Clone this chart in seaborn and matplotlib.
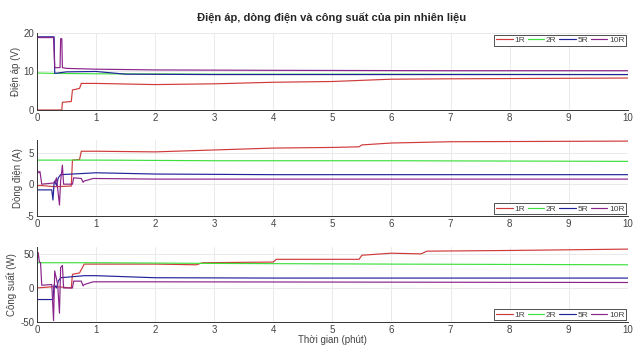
import matplotlib
matplotlib.use("Agg")
import matplotlib.pyplot as plt
import seaborn as sns

# --- data (breakpoints, minutes) ---
labels = ["1R", "2R", "5R", "10R"]
colors = ["#d03a3a", "#3ee03e", "#22229a", "#8a238a"]

# voltage (V)
v1_t = [0, 0.42, 0.43, 0.58, 0.6, 0.72, 0.75, 1.0, 2.0, 3.0, 4.0, 5.0, 5.5, 6.0, 7.0, 10.0]
v1_y = [0, 0, 2.0, 2.2, 5.2, 5.6, 6.9, 6.9, 6.6, 6.8, 7.2, 7.4, 7.7, 8.0, 8.1, 8.3]
v2_t = [0, 0.3, 1.0, 3.0, 6.0, 10.0]
v2_y = [9.6, 9.5, 9.4, 9.3, 9.3, 9.2]
v5_t = [0, 0.29, 0.3, 0.5, 1.0, 1.5, 3.0, 6.0, 10.0]
v5_y = [19.0, 19.0, 9.5, 9.9, 10.0, 9.3, 9.2, 9.2, 9.2]
v10_t = [0, 0.28, 0.3, 0.39, 0.4, 0.42, 0.43, 0.5, 1.0, 2.0, 4.0, 7.0, 10.0]
v10_y = [18.8, 18.8, 11.0, 11.0, 18.5, 18.5, 11.0, 10.8, 10.6, 10.4, 10.3, 10.2, 10.2]

# current (A)
i1_t = [0, 0.05, 0.3, 0.58, 0.6, 0.72, 0.75, 1.0, 2.0, 3.0, 4.0, 5.0, 5.45, 5.5, 6.0, 7.0, 10.0]
i1_y = [-0.3, -0.2, -0.4, -0.3, 3.8, 3.9, 5.2, 5.2, 5.1, 5.4, 5.7, 5.8, 5.9, 6.2, 6.5, 6.7, 6.8]
i2_t = [0, 1.0, 3.0, 6.0, 10.0]
i2_y = [3.8, 3.8, 3.7, 3.7, 3.6]
i5_t = [0, 0.25, 0.27, 0.29, 0.3, 0.33, 0.36, 0.4, 0.8, 1.0, 2.0, 4.0, 10.0]
i5_y = [-0.9, -0.9, -2.5, 0.3, 0.5, -0.2, 1.0, 1.5, 1.7, 1.8, 1.6, 1.5, 1.5]
i10_t = [0, 0.03, 0.05, 0.08, 0.3, 0.33, 0.38, 0.4, 0.43, 0.45, 0.6, 0.62, 0.75, 0.78, 0.8, 0.95, 2.0, 10.0]
i10_y = [2.3, 1.8, 2.0, 0.0, 0.2, 1.0, -3.3, 0.5, 3.0, 0.0, 0.0, 1.0, 0.9, 0.3, 0.5, 0.9, 0.8, 0.8]

# power (W)
p1_t = [0, 0.3, 0.58, 0.6, 0.72, 0.75, 0.8, 2.0, 2.7, 2.8, 4.0, 4.05, 5.0, 5.45, 5.5, 6.0, 6.5, 6.6, 8.0, 10.0]
p1_y = [0, 2, 0, 20, 22, 27, 35, 35, 34, 37, 38, 42, 42, 42, 48, 51, 50, 54, 55, 57]
p2_t = [0, 1.0, 3.0, 6.0, 10.0]
p2_y = [37, 37, 36, 35, 34]
p5_t = [0, 0.27, 0.29, 0.33, 0.36, 0.4, 0.8, 1.0, 2.0, 4.0, 10.0]
p5_y = [-17, -17, 5, 0, 10, 15, 18, 18, 15, 14.5, 14.5]
p10_t = [0, 0.02, 0.04, 0.06, 0.08, 0.25, 0.28, 0.3, 0.35, 0.38, 0.4, 0.43, 0.45, 0.6, 0.62, 0.75, 0.78, 0.8, 0.95, 2.0, 10.0]
p10_y = [40, 52, 38, 37, 4, 5, -48, 25, 5, -37, 30, 33, 0, 0, 10, 10, 3, 5, 9, 9, 8]

panels = [
    ([(v1_t, v1_y), (v2_t, v2_y), (v5_t, v5_y), (v10_t, v10_y)], "Điện áp (V)", (0, 20), [0, 10, 20], "upper right"),
    ([(i1_t, i1_y), (i2_t, i2_y), (i5_t, i5_y), (i10_t, i10_y)], "Dòng điện (A)", (-5, 7), [-5, 0, 5], "lower right"),
    ([(p1_t, p1_y), (p2_t, p2_y), (p5_t, p5_y), (p10_t, p10_y)], "Công suất (W)", (-50, 60), [-50, 0, 50], "lower right"),
]

sns.set_style("white")
plt.rcParams["font.family"] = ["Liberation Sans", "DejaVu Sans"]
plt.rcParams["axes.unicode_minus"] = False

fig = plt.figure(figsize=(6.38, 3.47), dpi=100)
boxes = [[0.058, 0.683, 0.926, 0.222], [0.058, 0.378, 0.926, 0.219], [0.058, 0.072, 0.926, 0.216]]

for box, (series, ylab, ylim, yt, loc) in zip(boxes, panels):
    ax = fig.add_axes(box)
    for (t, y), lab, c in zip(series, labels, colors):
        sns.lineplot(x=t, y=y, ax=ax, color=c, lw=0.85, label=lab, sort=False, estimator=None)
    ax.set_xlim(0, 10)
    ax.set_ylim(*ylim)
    ax.set_xticks(range(0, 11))
    ax.set_yticks(yt)
    ax.grid(True, color="#e6e6e6", lw=0.6)
    ax.tick_params(direction="in", length=3, labelsize=7, colors="#444444", pad=2)
    for s in ["top", "right"]:
        ax.spines[s].set_visible(False)
    for s in ["left", "bottom"]:
        ax.spines[s].set_color("#333333")
        ax.spines[s].set_linewidth(0.7)
    ax.set_ylabel(ylab, fontsize=7, color="#444444", labelpad=2)
    leg = ax.legend(loc=loc, ncol=4, fontsize=6, frameon=True, fancybox=False,
                    edgecolor="#333333", framealpha=1, handlelength=2.0, handletextpad=0.2,
                    columnspacing=0.3, borderpad=0.2, borderaxespad=0.2)
    leg.get_frame().set_linewidth(0.6)
    for txt in leg.get_texts():
        txt.set_color("#444444")
    if ylab.startswith("Công"):
        ax.set_xlabel("Thời gian (phút)", fontsize=7, color="#444444", labelpad=0)

fig.suptitle("Điện áp, dòng điện và công suất của pin nhiên liệu", fontsize=8, fontweight="bold", y=0.963, x=0.52)
fig.savefig("out.png", dpi=100)
